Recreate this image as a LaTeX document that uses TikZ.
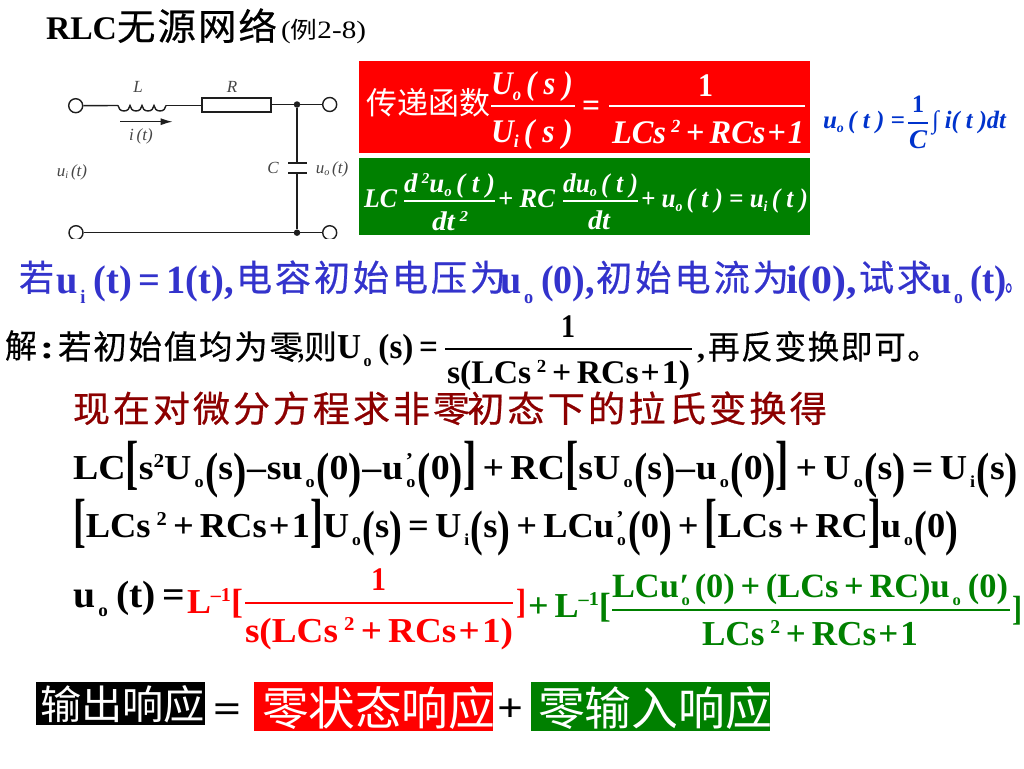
\documentclass[tikz,border=0pt]{standalone}
\usepackage{fontspec}
\setmainfont{Liberation Serif}
\newfontfamily\cjk{Noto Sans CJK SC}
\newfontfamily\cjkb[FakeBold=0.4]{Noto Sans CJK SC}
\newfontfamily\cjks[LetterSpace=5,FakeBold=0.4]{Noto Sans CJK SC}
\newfontfamily\cjkw[LetterSpace=8,FakeBold=0.6]{Noto Sans CJK SC}
\usetikzlibrary{arrows.meta}
\definecolor{pptgreen}{RGB}{0,128,0}
\definecolor{pptred}{RGB}{255,0,0}
\definecolor{pptblue}{RGB}{51,51,204}
\definecolor{eqblue}{RGB}{0,51,204}
\definecolor{darkred}{RGB}{140,0,0}
\definecolor{circ}{RGB}{30,30,30}
\definecolor{circlab}{RGB}{70,70,70}
\newcommand\sbx[1]{\kern.08em\raisebox{-.55ex}{\scalebox{.48}{#1}}\kern.04em}
\newcommand\sbi[1]{\raisebox{-.35ex}{\scalebox{.55}{#1}}}
\newcommand\spx[1]{\raisebox{.7ex}{\scalebox{.56}{#1}}}
\newcommand\lp{\raisebox{-.5ex}{\scalebox{1.05}[1.42]{(}}}
\newcommand\rp{\raisebox{-.5ex}{\scalebox{1.05}[1.42]{)}}}
\newcommand\lb{\raisebox{-.2ex}{\scalebox{1.05}[1.7]{[}}}
\newcommand\rb{\raisebox{-.2ex}{\scalebox{1.05}[1.7]{]}}}
\newcommand\tick{\kern-.3em\raisebox{.7ex}{\scalebox{.6}{'}}\kern.12em}
\newcommand\dnm{LCs\,\spx{2}\,+\,RCs\kern.06em+\kern.06em1}
% name, x, baseline, width, size, style-font, text
\newcommand\tl[7]{\node[anchor=base west,inner sep=0pt,outer sep=0pt] (#1) at (#2,#3) {\fontsize{#5pt}{#5pt}\selectfont #6\resizebox{#4pt}{\height}{#7}};}
\tikzset{
 termin/.style={circle,draw=circ,line width=1.4pt,fill=white,minimum size=14pt,inner sep=0pt},
 junct/.style={circle,fill=circ,minimum size=6.5pt,inner sep=0pt},
 wire/.style={draw=circ,line width=1.4pt},
 ruleline/.style={line width=1.2pt},
 circlabel/.style={text=circlab,font=\fontsize{17pt}{17pt}\selectfont\itshape,inner sep=0pt}
}
\begin{document}
\begin{tikzpicture}[x=1pt,y=-1pt]
\useasboundingbox (0,0) rectangle (1024,768);
\fill[white] (0,0) rectangle (1024,768);
% title
\tl{ta}{46}{40}{71}{33}{\bfseries}{RLC}
\tl{tb}{117}{40}{160}{37}{\cjks}{无源网络}
\tl{tc}{281}{39}{85}{25}{}{({\cjk\fontsize{23pt}{23pt}\selectfont 例}2-8)}
% circuit
\begin{scope}
\clip (40,60) rectangle (352,238);
\node[termin] (t1) at (75.7,105.7) {};
\node[termin] (t2) at (329.7,104.5) {};
\node[termin] (t3) at (76,232.7) {};
\node[termin] (t4) at (329.7,232.7) {};
\node[junct] (j1) at (297,104.5) {};
\node[junct] (j2) at (297,232.7) {};
\node[draw=circ,line width=2pt,minimum width=69pt,minimum height=14.5pt,inner sep=0pt] (rr) at (236,104.8) {};
\coordinate (la) at (118,105.5);
\coordinate (lb) at (166,105.5);
\coordinate (c1) at (297,162.7);
\coordinate (c2) at (297,173.3);
\coordinate (c1a) at (288,162.7);
\coordinate (c1b) at (306.7,162.7);
\coordinate (c2a) at (288,173.3);
\coordinate (c2b) at (306.7,173.3);
\coordinate (ia) at (120,121.7);
\coordinate (ib) at (172.7,121.7);
\draw[wire] (t1) -- (la);
\draw[wire] (la) arc (180:0:6 and 5.5) arc (180:0:6 and 5.5) arc (180:0:6 and 5.5) arc (180:0:6 and 5.5);
\draw[wire] (lb) -- (rr.west |- lb);
\draw[wire] (rr.east |- j1) -- (j1) -- (t2);
\draw[wire] (j1) -- (c1);
\draw[wire] (c2) -- (j2);
\draw[draw=circ,line width=2pt] (c1a) -- (c1b);
\draw[draw=circ,line width=2pt] (c2a) -- (c2b);
\draw[wire] (t3) -- (j2) -- (t4);
\draw[wire,-{Latex[length=12pt,width=7pt]}] (ia) -- (ib);
\end{scope}
\node[circlabel] (lL) at (138,87) {L};
\node[circlabel] (lR) at (232,87) {R};
\node[circlabel] (lI) at (141,136) {i\,(t)};
\node[circlabel] (lUi) at (72,172.5) {u\raisebox{-.3ex}{\scalebox{.6}{i}}\,(t)};
\node[circlabel] (lC) at (273,168) {C};
\node[circlabel] (lUo) at (332,169) {u\raisebox{-.3ex}{\scalebox{.6}{o}}\,(t)};
% red box
\fill[pptred] (359,61) rectangle (810,153);
\fill[pptgreen] (359,158) rectangle (810,235);
\begin{scope}[text=white]
\tl{ra}{366}{114}{124}{31}{\cjk}{传递函数}
\tl{rb}{491}{95}{82}{33}{\bfseries\itshape}{U\sbi{o}\,( s )}
\tl{rc}{491}{142}{82}{33}{\bfseries\itshape}{U\sbi{i}\,( s )}
\draw[white,ruleline] (491,106) -- (575,106);
\tl{rd}{582}{116}{18}{33}{\bfseries}{=}
\tl{re}{698}{96}{15}{33}{\bfseries}{1}
\draw[white,ruleline] (609,106) -- (805,106);
\tl{rf}{612}{143}{192}{33}{\bfseries\itshape}{\dnm}
\tl{ga}{364}{207}{33}{27}{\bfseries\itshape}{LC}
\tl{gb}{404}{192}{91}{27}{\bfseries\itshape}{d\,\spx{2}u\sbi{o}\,( t )}
\draw[white,ruleline] (404,201) -- (495,201);
\tl{gc}{432}{230}{36}{27}{\bfseries\itshape}{dt\,\spx{2}}
\tl{gd}{498}{207}{57}{27}{\bfseries\itshape}{+ RC}
\tl{ge}{563}{192}{75}{27}{\bfseries\itshape}{du\sbi{o}\,( t )}
\draw[white,ruleline] (563,201) -- (638,201);
\tl{gf}{588}{229}{22}{27}{\bfseries\itshape}{dt}
\tl{gg}{641}{207}{167}{27}{\bfseries\itshape}{+ u\sbi{o}\,( t ) = u\sbi{i}\,( t )}
\end{scope}
% blue formula
\begin{scope}[text=eqblue]
\tl{ba}{823}{128}{82}{25}{\bfseries\itshape}{u\sbi{o}\,( t ) =}
\tl{bb}{912}{112}{12}{25}{\bfseries}{1}
\draw[eqblue,ruleline] (908,123) -- (928,123);
\tl{bc}{909}{148}{18}{27}{\bfseries\itshape}{C}
\tl{bd}{932}{128}{74}{25}{\bfseries\itshape}{\textup{∫} i( t )dt}
\end{scope}
% line 若
\begin{scope}[text=pptblue]
\tl{ca}{19}{291}{35}{36}{\cjkb}{若}
\tl{cb}{56}{293}{178}{40}{\bfseries}{u\sbx{i}\,(t)\,=\,1(t),}
\tl{cc}{236}{291}{270}{36}{\cjkw}{电容初始电压为}
\tl{cd}{500}{293}{95}{40}{\bfseries}{u\sbx{o}\,(0),}
\tl{ce}{596}{291}{193}{36}{\cjkw}{初始电流为}
\tl{cf}{786}{293}{71}{40}{\bfseries}{i(0),}
\tl{cg}{859}{291}{73}{36}{\cjkw}{试求}
\tl{ch}{931}{293}{76}{40}{\bfseries}{u\sbx{o}\,(t)}
\tl{ci}{1005}{291}{19}{32}{\cjkb}{。}
\end{scope}
% line 解
\tl{da}{5}{358}{32}{33}{\cjkb}{解}
\tl{db}{40}{358}{14}{33}{\bfseries}{:}
\tl{dc}{58}{359}{245}{33}{\cjks}{若初始值均为零}
\tl{dd}{298}{358}{6}{30}{\bfseries}{,}
\tl{de}{304}{359}{33}{33}{\cjkb}{则}
\tl{df}{337}{358}{101}{35}{\bfseries}{U\sbx{o}\,(s)\,=}
\tl{dg}{561}{337}{14}{33}{\bfseries}{1}
\draw[black,ruleline] (445,349) -- (692,349);
\tl{dh}{447}{383}{243}{33}{\bfseries}{s(\dnm)}
\tl{di}{697}{358}{8}{30}{\bfseries}{,}
\tl{dj}{708}{359}{231}{33}{\cjks}{再反变换即可。}
% dark red
\begin{scope}[text=darkred]
\tl{ea}{73}{422}{397}{36}{\cjkw}{现在对微分方程求非零}
\tl{eb}{467}{422}{360}{36}{\cjkw}{初态下的拉氏变换得}
\end{scope}
% equations
\tl{fa}{73}{479}{945}{35}{\bfseries}{LC\lb s\spx{2}U\sbx{o}\lp s\rp\kern.02em–\kern.02em su\sbx{o}\lp 0\rp\kern.02em–\kern.02em u\sbx{o}\tick\lp 0\rp\rb\,+\,RC\lb sU\sbx{o}\lp s\rp\kern.02em–\kern.02em u\sbx{o}\lp 0\rp\rb\,+\,U\sbx{o}\lp s\rp\,=\,U\sbx{i}\lp s\rp}
\tl{fb}{73}{537}{885}{35}{\bfseries}{\lb\dnm\rb U\sbx{o}\lp s\rp\,=\,U\sbx{i}\lp s\rp\,+\,LCu\sbx{o}\tick\lp 0\rp\,+\,\lb LCs\,+\,RC\rb u\sbx{o}\lp 0\rp}
\tl{ga1}{73}{607}{112}{38}{\bfseries}{u\sbx{o}\,(t)\,=}
\begin{scope}[text=pptred]
\tl{ha}{187}{613}{56}{35}{\bfseries}{L\spx{–1}[}
\tl{hb}{371}{590}{15}{33}{\bfseries}{1}
\draw[pptred,ruleline] (245,603) -- (513,603);
\tl{hc}{245}{642}{268}{35}{\bfseries}{s(\dnm)}
\tl{hd}{516}{613}{10}{35}{\bfseries}{]}
\end{scope}
\begin{scope}[text=pptgreen]
\tl{ia}{528}{617}{83}{35}{\bfseries}{+\,L\spx{–1}[}
\tl{ib}{612}{597}{396}{34}{\bfseries}{LCu\kern.02em′\kern-.3em\sbx{o}\kern.1em(0)\,+\,(LCs\,+\,RC)u\sbx{o}\,(0)}
\draw[pptgreen,ruleline] (612,610) -- (1010,610);
\tl{ic}{702}{645}{216}{35}{\bfseries}{\dnm}
\tl{id}{1012}{620}{10}{35}{\bfseries}{]}
\end{scope}
% bottom
\fill[black] (36,682) rectangle (205,725);
\fill[pptred] (254,682) rectangle (493,731);
\fill[pptgreen] (531,682) rectangle (770,731);
\tl{ja}{40}{719}{165}{40}{\cjk\color{white}}{输出响应}
\tl{jb}{213}{722}{28}{40}{\bfseries}{=}
\tl{jc}{262}{725}{233}{46}{\cjk\color{white}}{零状态响应}
\tl{jd}{497}{721}{26}{40}{\bfseries}{+}
\tl{je}{538}{725}{234}{46}{\cjk\color{white}}{零输入响应}
\end{tikzpicture}
\end{document}
